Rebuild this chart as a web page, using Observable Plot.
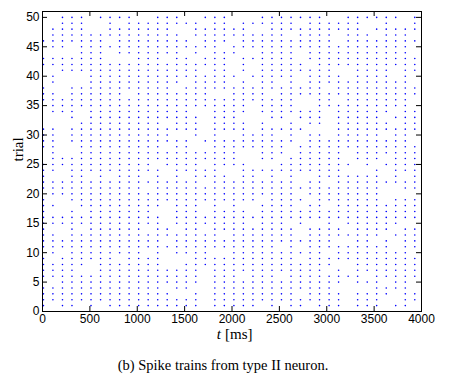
<!DOCTYPE html>
<html><head><meta charset="utf-8">
<script src="https://cdn.jsdelivr.net/npm/d3@7"></script>
<script src="https://cdn.jsdelivr.net/npm/@observablehq/plot@0.6"></script>
<style>
html,body{margin:0;padding:0;background:#fff;}
#chart svg{display:block;}
</style></head><body><div id="chart"></div>
<script>
// Spike-time slots (ms)
const spikeTimes = [10,110,211,311,412,512,613,713,814,914,1015,1115,1216,1316,1417,1517,1618,1718,1819,1919,2020,2120,2221,2321,2422,2522,2623,2723,2824,2924,3025,3125,3226,3326,3427,3527,3628,3728,3829,3929];
// Trials from top (50) to bottom (1)
const trialNumbers = [50,49,48,47,46,45,44,43,42,41,40,39,38,37,36,35,34,33,32,31,30,29,28,27,26,25,24,23,22,21,20,19,18,17,16,15,14,13,12,11,10,9,8,7,6,5,4,3,2,1];
// 1 = spike in that slot, one string per trial (same order as trialNumbers)
const spikePattern = [
"0011101111001110011100011111110011111101",
"0011100101111111101101111110111111001001",
"0111100111111100111111001111111111011111",
"0111111111111110111111111101111011101110",
"1111111011111111011101111111111011111111",
"0110111111111111111011111111111111111110",
"0000111011111110101110011110111111111110",
"1111111000111011011101111110111111111111",
"1111111111111111111101011111011111111111",
"0011111111111111101101011111111001111011",
"0100011111111111111110111110111101111010",
"0100011111111110111101011010111111111110",
"1001111111111101111111111111110111111111",
"1101111110111111110011110111111111111111",
"1111111111111111111111111110011011111110",
"0111111111111111111111011110011111111110",
"0111011111111111001111011111110111111011",
"0001011111111111101110001101110111110111",
"0000111111111011101111010010110111111011",
"1101111111111111101111011111000111111111",
"1101111111111100101001111010110111110110",
"1101111111111111011111111110111111111110",
"1100111111111011001111111101111111111111",
"0100111111111111111110011101111101111111",
"0111111111111111111110011011111101110111",
"1111111111110111101111000111111110101111",
"1101111111111011111001111111111100010111",
"1001101011101010111101101010011111110101",
"1111111111111111101111111110110111111111",
"1111111111101111111111111111111111110011",
"0111111111111111111111111110111111110000",
"1001111111111111111111101111011111110111",
"1100111111111011101010011110110111111111",
"1001011111110011101111011111111111111111",
"1111111111111011111111111111111111111111",
"1111111111111011111111011101001011111100",
"1001011111101101101111111110111101111011",
"1101111111111111111011111110111111110111",
"1111111111111011111111111111111001101011",
"1111111111111111111111111010111111111011",
"0101111111101011110011111111110111111110",
"1011111101111000111111111110111111111111",
"1111101111111001111111111111111001111111",
"1111001111111111101111111111110101111111",
"1111111111111111101110111011111111011111",
"0011111111111111101111111111111101110110",
"1111111111111011001111111111111000011110",
"1111111111111100101111111110111101111011",
"1111111111111111101111111111111101110011",
"1011010111111111101111101011011101110110"
];
const xTicks = [0,500,1000,1500,2000,2500,3000,3500,4000];
const yTicks = [0,5,10,15,20,25,30,35,40,45,50];
const xLabelItalic = "t";
const xLabelRest = "[ms]";
const yLabel = "trial";
const captionText = "(b) Spike trains from type II neuron.";

const spikes = [];
trialNumbers.forEach((trial, i) => {
  const row = spikePattern[i];
  for (let k = 0; k < spikeTimes.length; k++) {
    if (row[k] === "1") spikes.push({t: spikeTimes[k], trial});
  }
});

const W = 455, H = 383, mL = 42, mR = 34, mT = 11, mB = 72;
const innerW = W - mL - mR, innerH = H - mT - mB;
const serif = "'Liberation Serif', 'DejaVu Serif', serif";

const chart = Plot.plot({
  width: W, height: H,
  marginLeft: mL, marginRight: mR, marginTop: mT, marginBottom: mB,
  style: {fontFamily: "'Liberation Sans', Arial, sans-serif", fontSize: "12px", color: "black", background: "white"},
  x: {domain: [0, 4000], ticks: xTicks, tickSize: 0, tickPadding: 3, label: null, tickFormat: d => String(d)},
  y: {domain: [0, 51], ticks: yTicks, tickSize: 0, tickPadding: 3, label: null, tickFormat: d => String(d)},
  marks: [
    Plot.dot(spikes, {x: "t", y: "trial", r: 0.8, fill: "#0000ff", stroke: null}),
    Plot.tickX(xTicks.slice(1, -1), {x: d => d, insetTop: innerH - 5, stroke: "black"}),
    Plot.tickX(xTicks.slice(1, -1), {x: d => d, insetBottom: innerH - 5, stroke: "black"}),
    Plot.tickY(yTicks.slice(1), {y: d => d, insetRight: innerW - 5, stroke: "black"}),
    Plot.tickY(yTicks.slice(1), {y: d => d, insetLeft: innerW - 5, stroke: "black"}),
    Plot.frame({stroke: "black"}),
    Plot.text([xLabelItalic], {text: d => d, frameAnchor: "bottom", dy: 27, dx: -11, textAnchor: "end", fontStyle: "italic", fontFamily: serif, fontSize: 15}),
    Plot.text([xLabelRest], {text: d => d, frameAnchor: "bottom", dy: 27, dx: -7, textAnchor: "start", fontFamily: serif, fontSize: 15}),
    Plot.text([yLabel], {text: d => d, frameAnchor: "left", dx: -24, rotate: -90, fontFamily: serif, fontSize: 15}),
    Plot.text([captionText], {text: d => d, frameAnchor: "bottom", dy: 58, dx: -9, fontFamily: serif, fontSize: 14.5})
  ]
});
document.getElementById("chart").appendChild(chart);
</script></body></html>
